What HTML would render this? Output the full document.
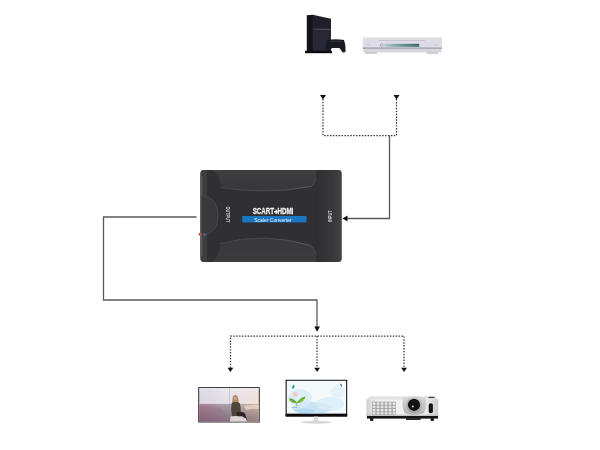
<!DOCTYPE html>
<html><head><meta charset="utf-8">
<style>
html,body{-webkit-font-smoothing:antialiased;margin:0;padding:0;background:#fff;width:600px;height:450px;overflow:hidden;}
svg{display:block;position:absolute;left:0;top:0;will-change:transform;filter:blur(0.3px);}
text{font-family:"Liberation Sans",sans-serif;}
</style></head>
<body>
<svg width="600" height="450" viewBox="0 0 600 450">
<defs>
  <linearGradient id="dvdDisp" x1="0" x2="1" y1="0" y2="0">
    <stop offset="0" stop-color="#b4cfcc"/><stop offset="0.35" stop-color="#7ba5a2"/><stop offset="1" stop-color="#3a6a68"/>
  </linearGradient>
  <linearGradient id="devRight" x1="0" x2="1" y1="0" y2="0">
    <stop offset="0" stop-color="#2f2f32"/><stop offset="0.7" stop-color="#39393c"/><stop offset="1" stop-color="#444448"/>
  </linearGradient>
  <linearGradient id="tvSky" x1="0" x2="1" y1="0" y2="0">
    <stop offset="0" stop-color="#d9d5e2"/><stop offset="0.5" stop-color="#e6e2ea"/><stop offset="1" stop-color="#f0e2da"/>
  </linearGradient>
  <linearGradient id="tvSkyV" x1="0" x2="0" y1="0" y2="1">
    <stop offset="0" stop-color="#fff" stop-opacity="0.6"/><stop offset="0.15" stop-color="#fff" stop-opacity="0.1"/><stop offset="0.85" stop-color="#fff" stop-opacity="0"/><stop offset="1" stop-color="#fff" stop-opacity="0.3"/>
  </linearGradient>
  <linearGradient id="tvGround" x1="0" x2="1" y1="0" y2="0">
    <stop offset="0" stop-color="#a88498"/><stop offset="0.5" stop-color="#b0a4b0"/><stop offset="1" stop-color="#d2b8ac"/>
  </linearGradient>
  <linearGradient id="tvGroundV" x1="0" x2="0" y1="0" y2="1">
    <stop offset="0" stop-color="#000" stop-opacity="0"/><stop offset="1" stop-color="#301828" stop-opacity="0.35"/>
  </linearGradient>
  <linearGradient id="projFront" x1="0" x2="1" y1="0" y2="0">
    <stop offset="0" stop-color="#cfcfcf"/><stop offset="0.15" stop-color="#f2f2f2"/><stop offset="0.8" stop-color="#f0f0f0"/><stop offset="1" stop-color="#cdcdcd"/>
  </linearGradient>
  <radialGradient id="lensRing" cx="0.5" cy="0.3" r="0.7">
    <stop offset="0" stop-color="#e6e6e6"/><stop offset="1" stop-color="#9a9a9a"/>
  </radialGradient>
  <linearGradient id="ridgeTop" x1="0" x2="0" y1="0" y2="1">
    <stop offset="0" stop-color="#3e3e41"/><stop offset="1" stop-color="#37373a"/>
  </linearGradient>
  <linearGradient id="ridgeBot" x1="0" x2="0" y1="0" y2="1">
    <stop offset="0" stop-color="#38383b"/><stop offset="1" stop-color="#3c3c3f"/>
  </linearGradient>
  <linearGradient id="ridgeEdge" x1="0" x2="1" y1="0" y2="0">
    <stop offset="0" stop-color="#444448"/><stop offset="0.6" stop-color="#4c4c50"/><stop offset="0.9" stop-color="#5e5e62"/><stop offset="1" stop-color="#444447"/>
  </linearGradient>
  <linearGradient id="lensHouse" x1="0" x2="0" y1="0" y2="1">
    <stop offset="0" stop-color="#d8d8d8"/><stop offset="1" stop-color="#b4b4b4"/>
  </linearGradient>
</defs>
<rect width="600" height="450" fill="#fff"/>

<!-- ===== connector lines ===== -->
<g fill="none" stroke="#333" stroke-width="1.25" stroke-dasharray="1.45 1.45">
  <path d="M323 99 V135.5 H396.5 V99"/>
  <path d="M230.5 368 V336 H404 V368"/>
  <path d="M317 336 V368"/>
</g>
<g fill="none" stroke="#5a5a5a" stroke-width="1.3">
  <path d="M389.5 135.5 V218.5 H346"/>
  <path d="M196.5 217 H103.5 V300 H317 V327"/>
</g>
<g fill="#111">
  <path d="M320 95 H326 L323 99.5 Z"/>
  <path d="M393.5 95 H399.5 L396.5 99.5 Z"/>
  <path d="M342.5 218.5 L347.5 215.5 V221.5 Z"/>
  <path d="M314.3 326.5 H320 L317 331.8 Z"/>
  <path d="M227.5 367.8 H233.3 L230.4 372 Z"/>
  <path d="M314.2 367.8 H320 L317.1 372 Z"/>
  <path d="M401.2 367.8 H407 L404.1 372 Z"/>
</g>

<!-- ===== converter device ===== -->
<g>
  <rect x="200.5" y="170" width="141" height="92" rx="3.2" fill="#303034"/>
  <!-- right end -->
  <path d="M316 170 H337.5 Q341.5 170 341.5 174 V258 Q341.5 262 337.5 262 H316 Z" fill="url(#devRight)"/>
  <!-- top ridge -->
  <path d="M212 170 Q221 176 221 187.5 Q265 195 312 186.3 Q315 184 316 178 V170 Z" fill="url(#ridgeTop)"/>
  <path d="M221 187.5 Q265 195 312 186.3 Q315 184 316 178" fill="none" stroke="url(#ridgeEdge)" stroke-width="1"/>
  <!-- bottom ridge -->
  <path d="M212 262 Q220 256 220 243.7 Q265 231.4 310.6 245.6 Q314 248 316 254 V262 Z" fill="url(#ridgeBot)"/>
  <path d="M220 243.7 Q265 231.4 310.6 245.6 Q314 248 316 254" fill="none" stroke="url(#ridgeEdge)" stroke-width="1"/>
  <!-- left strip -->
  <path d="M204.5 170 H207 V262 H204.5 Q200.5 262 200.5 258 V174 Q200.5 170 204.5 170 Z" fill="#3d3d40"/>
  <rect x="200.5" y="176" width="2" height="80" fill="#56565a"/>
  <!-- scart connector -->
  <path d="M201.5 195.5 Q218 197 218 215.5 Q218 234 201.5 235.5 Z" fill="#39393c" stroke="#4a4a4e" stroke-width="0.8"/>
  <circle cx="200.3" cy="234.2" r="1.6" fill="#c0504a"/>
  <circle cx="204.5" cy="234.5" r="1.2" fill="#5a6a9a"/>
</g>
<text transform="translate(273,214.2) scale(0.64,1)" font-size="9.9" font-weight="bold" fill="#f4f4f4" stroke="#f4f4f4" stroke-width="0.25" text-anchor="middle" letter-spacing="-0.2">SCART<tspan font-size="7" dy="-0.6">&#10132;</tspan><tspan dy="0.6">HDMI</tspan></text>
<rect x="242.3" y="216" width="64.2" height="6.4" fill="#1a78c2"/>
<text x="273" y="221.6" font-size="5" fill="#e8f0ff" text-anchor="middle">Scaler Converter</text>
<text transform="translate(226.4,214.4) rotate(90) scale(0.85,1)" font-size="4.6" font-weight="bold" fill="#d8d8d8" text-anchor="middle">OUTPUT</text>
<text transform="translate(332.2,216.2) rotate(-90) scale(0.85,1)" font-size="4.6" font-weight="bold" fill="#d8d8d8" text-anchor="middle">INPUT</text>

<!-- ===== PS4 ===== -->
<g>
  <path d="M306.8 15.2 L313.2 14.8 V51.2 H306.8 Z" fill="#131319"/>
  <path d="M312.6 14.8 L331 18.8 V29.4 L312.6 29 Z" fill="#1f1f29"/>
  <path d="M312.6 29 L331 29.4 V51.2 H312.6 Z" fill="#272736"/>
  <path d="M312.8 28.8 L331 29.2" stroke="#40405e" stroke-width="0.8"/>
  <rect x="305" y="50.8" width="27" height="2.4" fill="#0c0c10"/>
  <path d="M327 40 Q336 38.6 344 40 Q346 45 345.6 51.5 Q344.5 53 342.5 52.2 L339.5 48 H332 L329 51.5 Q326.5 52 325.6 50.5 Q325.4 45 327 40 Z" fill="#1a1a22"/>
  <path d="M330 41.5 Q336 40.8 342 41.5" stroke="#3a3a48" stroke-width="0.6" fill="none"/>
</g>

<!-- ===== DVD ===== -->
<g>
  <path d="M363.5 37.2 H441.2 Q442 37.4 442 38.5 V48 H362.8 V38.5 Q362.8 37.4 363.5 37.2 Z" fill="#dddbe3"/>
  <rect x="362.8" y="37.2" width="79.2" height="1.2" fill="#ecebf0"/>
  <rect x="379" y="40.2" width="46" height="0.8" fill="#c4c2cc"/>
  <rect x="384.2" y="43.8" width="35" height="3" fill="url(#dvdDisp)"/>
  <circle cx="381.7" cy="45.2" r="1.4" fill="none" stroke="#8e8c98" stroke-width="0.6"/>
  <rect x="362.8" y="47.6" width="79.2" height="1.2" fill="#8f8d97"/>
  <rect x="363.3" y="48.8" width="78.2" height="3.6" fill="#d6d4dc"/>
  <rect x="365" y="52.2" width="12" height="1.6" fill="#c4c2ca"/>
  <rect x="427" y="52.2" width="11" height="1.6" fill="#c4c2ca"/>
  <rect x="366" y="44.5" width="4" height="0.6" fill="#bcbac4"/>
  <rect x="434" y="44.5" width="4" height="0.6" fill="#bcbac4"/>
</g>

<!-- ===== TV ===== -->
<g>
  <rect x="198.2" y="387.1" width="61.6" height="35.4" fill="#302b2e"/>
  <rect x="199.2" y="388.1" width="59.6" height="33.4" fill="url(#tvSky)"/>
  <rect x="199.2" y="388.1" width="59.6" height="16" fill="url(#tvSkyV)"/>
  <rect x="199.2" y="403.8" width="59.6" height="17.7" fill="url(#tvGround)"/>
  <rect x="199.2" y="403.8" width="59.6" height="17.7" fill="url(#tvGroundV)"/>
  <path d="M199.2 406 Q205 404.5 210 407 Q216 406 222 409 Q226 414 227 421.5 H199.2 Z" fill="#9a6c84" opacity="0.3"/>
  <path d="M244 406 Q252 404.5 258.8 405 V409 Q252 408 246 410 Z" fill="#f2dccc" opacity="0.7"/>
  <rect x="229" y="388.1" width="0.7" height="19" fill="#8a8690" opacity="0.45"/>
  <!-- woman -->
  <path d="M232.2 404 Q232 399 233.2 396.2 Q235.2 393.8 237.4 396 Q238.8 399 238.8 404 Z" fill="#b08a68"/>
  <path d="M231.6 403.2 Q235.2 400.6 239.8 403.2 Q241.2 408 240.6 414 L238.5 416.5 L232 416.5 Q230.4 409 231.6 403.2 Z" fill="#4d483a"/>
  <ellipse cx="235.3" cy="398.2" rx="1.5" ry="2" fill="#c8a488"/>
  <path d="M236 413 Q242 410.5 245 413.5 L247 419.8 L245.2 420.2 L242.6 415.8 L238 416.8 Z" fill="#2c2426"/>
  <path d="M230.5 416.4 Q238 415 245.5 418 L247 421.5 H230 Z" fill="#ddd4d6"/>
</g>
<!-- ===== Monitor ===== -->
<g>
  <rect x="285.6" y="379.7" width="61.6" height="36.8" rx="0.6" fill="#141414"/>
  <rect x="286.7" y="380.8" width="59.4" height="33" fill="#f4f9fc"/>
  <ellipse cx="312" cy="408" rx="20" ry="6" fill="#bfe2f3" opacity="0.85"/>
  <ellipse cx="300" cy="398" rx="12" ry="9" fill="#d4ecf7" opacity="0.8"/>
  <ellipse cx="330" cy="404" rx="14" ry="7" fill="#d8eef8" opacity="0.8"/>
  <ellipse cx="338" cy="392" rx="7" ry="6" fill="#e2f2f9" opacity="0.9"/>
  <ellipse cx="305" cy="411" rx="10" ry="2.5" fill="#a9d6ee" opacity="0.7"/>
  <circle cx="295.2" cy="394.2" r="2.6" fill="#f2c6c8" opacity="0.9"/>
  <path d="M296.6 402.2 Q292 396.8 289 398.8 Q290.6 404 296.6 403 Z" fill="#7ab83a"/>
  <path d="M296.6 402.2 Q292 399 289.8 399.4" stroke="#3f7a1c" stroke-width="0.5" fill="none"/>
  <path d="M297 402.6 Q301.5 396 305.8 396.8 Q303 403.6 297 403.2 Z" fill="#86c040"/>
  <path d="M297 402.6 Q301 399 305 397.2" stroke="#3f7a1c" stroke-width="0.5" fill="none"/>
  <path d="M296.7 403 L296.9 406.5" stroke="#6a8a3a" stroke-width="0.6"/>
  <rect x="292" y="407" width="5" height="0.8" fill="#8aa0aa" opacity="0.7"/>
  <path d="M291.8 387.6 L293.6 384.6 L294.8 386.2 L293 389 Z" fill="#2a9a9a"/>
  <path d="M340.2 383.6 L342.2 385 L341.6 387 L340.4 385.6 Z" fill="#2a8a8a"/>
  <rect x="285.6" y="413.8" width="61.6" height="2.7" fill="#0c0c0c"/>
  <path d="M314 416.5 H317.8 L318.4 421.3 H313.4 Z" fill="#dcdcdc"/>
  <ellipse cx="316.3" cy="422.3" rx="15.3" ry="1.5" fill="#d6d6d6"/>
</g>
<!-- ===== Projector ===== -->
<g>
  <path d="M370 396.5 H434.6 L438.2 399.4 V416.2 H366.4 V399.4 Z" fill="url(#projFront)"/>
  <path d="M370 396.5 H434.6 L438.2 399.4 H366.4 Z" fill="#e2e2e2"/>
  <rect x="366.4" y="414.6" width="71.8" height="1.6" fill="#c4c4c4"/>
  <rect x="367" y="416" width="71" height="2.6" fill="#151515"/>
  <rect x="370" y="418" width="3.4" height="3" rx="0.8" fill="#1e1e1e"/>
  <rect x="430.6" y="418" width="3.4" height="3" rx="0.8" fill="#1e1e1e"/>
  <rect x="406" y="418" width="14.6" height="2" fill="#2a2a2a"/>
  <rect x="372" y="401.7" width="24" height="13.3" fill="#9c9c9c"/>
  <g fill="#e6e6e6"><rect x="372.6" y="402.3" width="2.9" height="2.6"/><rect x="376.6" y="402.3" width="2.9" height="2.6"/><rect x="380.6" y="402.3" width="2.9" height="2.6"/><rect x="384.6" y="402.3" width="2.9" height="2.6"/><rect x="388.6" y="402.3" width="2.9" height="2.6"/><rect x="392.6" y="402.3" width="2.9" height="2.6"/><rect x="372.6" y="405.6" width="2.9" height="2.6"/><rect x="376.6" y="405.6" width="2.9" height="2.6"/><rect x="380.6" y="405.6" width="2.9" height="2.6"/><rect x="384.6" y="405.6" width="2.9" height="2.6"/><rect x="388.6" y="405.6" width="2.9" height="2.6"/><rect x="392.6" y="405.6" width="2.9" height="2.6"/><rect x="372.6" y="408.9" width="2.9" height="2.6"/><rect x="376.6" y="408.9" width="2.9" height="2.6"/><rect x="380.6" y="408.9" width="2.9" height="2.6"/><rect x="384.6" y="408.9" width="2.9" height="2.6"/><rect x="388.6" y="408.9" width="2.9" height="2.6"/><rect x="392.6" y="408.9" width="2.9" height="2.6"/><rect x="372.6" y="412.1" width="2.9" height="2.4"/><rect x="376.6" y="412.1" width="2.9" height="2.4"/><rect x="380.6" y="412.1" width="2.9" height="2.4"/><rect x="384.6" y="412.1" width="2.9" height="2.4"/><rect x="388.6" y="412.1" width="2.9" height="2.4"/><rect x="392.6" y="412.1" width="2.9" height="2.4"/></g>
  <path d="M403.5 397.5 Q414 395.5 425 397.5 Q427.5 405 424 413 Q414 417 404.5 413 Q401 405 403.5 397.5 Z" fill="url(#lensHouse)"/>
  <circle cx="414" cy="404.8" r="8" fill="url(#lensRing)"/>
  <circle cx="414" cy="404.8" r="6.1" fill="#121214"/>
  <circle cx="412.8" cy="406.4" r="1" fill="#c0dcf2"/>
  <rect x="428.7" y="403.3" width="4.2" height="10" rx="2" fill="#141414"/>
  <rect x="428.5" y="396.8" width="6" height="1.2" fill="#3a3a3a"/>
</g>
</svg>
</body></html>
